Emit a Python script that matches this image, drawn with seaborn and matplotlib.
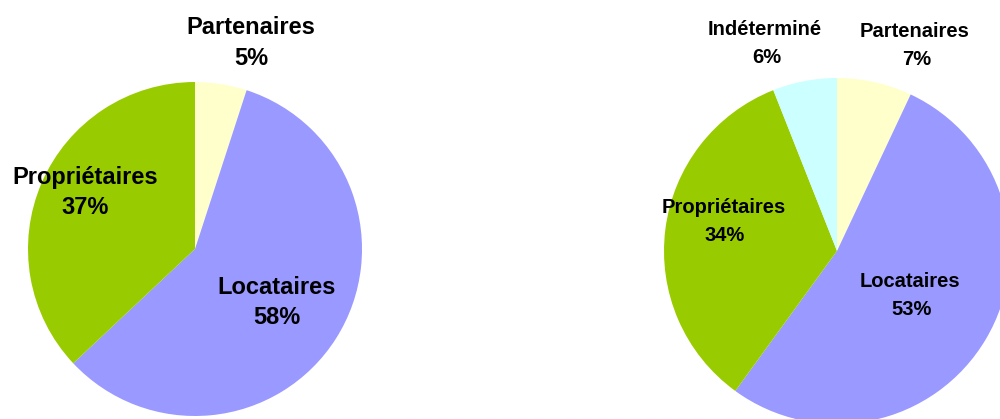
import matplotlib
matplotlib.use("Agg")
import matplotlib.pyplot as plt
import seaborn as sns

# ---- data ----
left_labels = ["Partenaires", "Locataires", "Propriétaires"]
left_values = [5, 58, 37]
right_labels = ["Partenaires", "Locataires", "Propriétaires", "Indéterminé"]
right_values = [7, 53, 34, 6]

palette = {
    "Partenaires": "#FFFFCC",
    "Locataires": "#9999FF",
    "Propriétaires": "#99CC00",
    "Indéterminé": "#CCFFFF",
}

sns.set_theme(style="white")
plt.rcParams["font.family"] = ["Liberation Sans", "DejaVu Sans"]

W, H = 1000, 419
fig = plt.figure(figsize=(W / 100, H / 100), dpi=100)
fig.patch.set_facecolor("white")


def pie_axes(cx, cy, r):
    ax = fig.add_axes([(cx - r) / W, (H - cy - r) / H, 2 * r / W, 2 * r / H])
    ax.set_xlim(-1, 1)
    ax.set_ylim(-1, 1)
    ax.axis("off")
    return ax


def draw_pie(ax, labels, values):
    ax.pie(values, colors=[palette[l] for l in labels], startangle=90,
           counterclock=False, radius=1, center=(0, 0), frame=False,
           wedgeprops=dict(linewidth=0))
    ax.set_xlim(-1, 1)
    ax.set_ylim(-1, 1)
    ax.set_aspect("auto")


# left pie
axL = pie_axes(195, 249, 167)
draw_pie(axL, left_labels, left_values)
# right pie
axR = pie_axes(837, 251, 173)
draw_pie(axR, right_labels, right_values)

# label layout (pixel positions: name center x, name baseline, pct center x, pct baseline)
left_layout = {
    "Partenaires": (251, 34, 251, 65),
    "Locataires": (277, 294, 277, 324),
    "Propriétaires": (85, 184, 85, 214),
}
right_layout = {
    "Partenaires": (915, 37, 917, 65),
    "Locataires": (910, 287, 912, 315),
    "Propriétaires": (724, 213, 725, 241),
    "Indéterminé": (765, 35, 767, 63),
}


def put_labels(labels, values, layout, size):
    for lab, val in zip(labels, values):
        nx, ny, px, py = layout[lab]
        fig.text(nx / W, 1 - ny / H, lab, ha="center", va="baseline",
                 fontsize=size, fontweight="bold", color="black")
        fig.text(px / W, 1 - py / H, f"{val}%", ha="center", va="baseline",
                 fontsize=size, fontweight="bold", color="black")


put_labels(left_labels, left_values, left_layout, 17)
put_labels(right_labels, right_values, right_layout, 14.5)

fig.savefig("out.png", dpi=100, facecolor="white")
